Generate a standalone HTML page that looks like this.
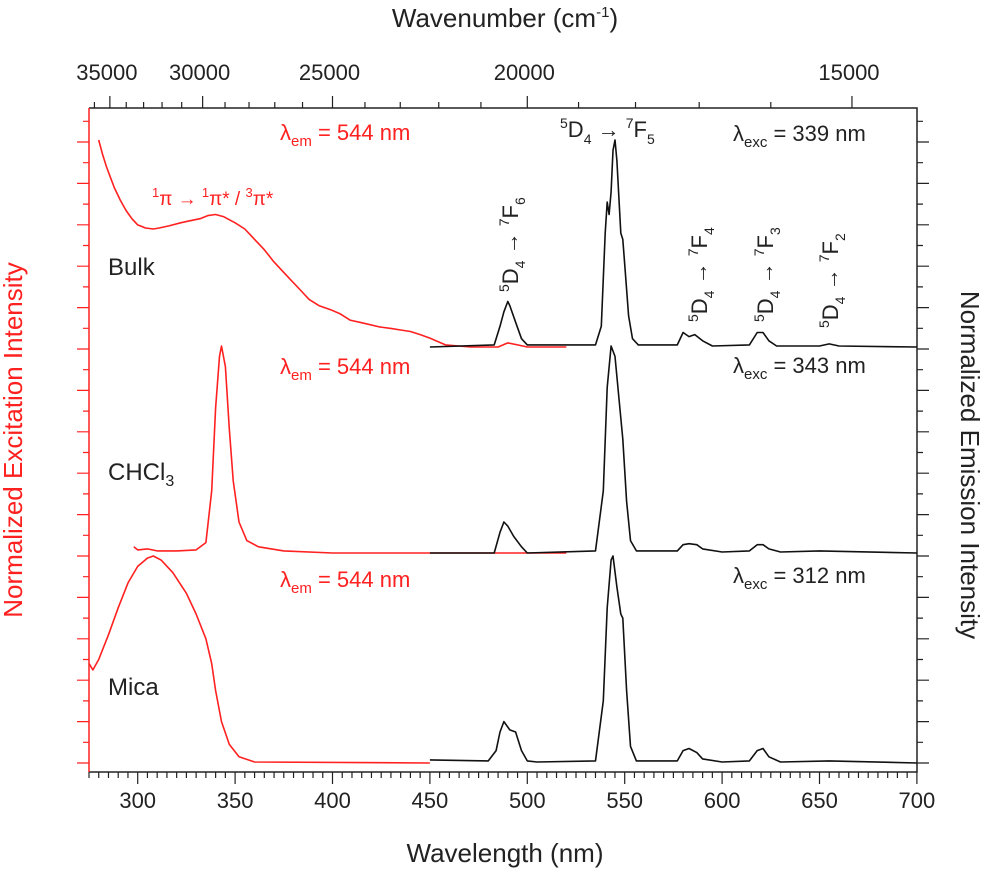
<!DOCTYPE html>
<html><head><meta charset="utf-8"><style>
body{margin:0;background:#fff}
svg{font-family:"Liberation Sans",sans-serif}
</style></head><body>
<svg id="chart" width="983" height="874" viewBox="0 0 983 874" xmlns="http://www.w3.org/2000/svg">
<g id="axes"></g><g id="series"></g>
<g id="labels" font-size="22">
<text x="505" y="27" text-anchor="middle" font-size="26" fill="#222">Wavenumber (cm<tspan font-size="15" dy="-10">-1</tspan><tspan dy="10">)</tspan></text>
<text x="505" y="862" text-anchor="middle" font-size="26" fill="#222">Wavelength (nm)</text>
<text transform="translate(22,440) rotate(-90)" text-anchor="middle" font-size="26" fill="#ff2020">Normalized Excitation Intensity</text>
<text transform="translate(961,465) rotate(90)" text-anchor="middle" font-size="26" fill="#222">Normalized Emission Intensity</text>
<text x="108" y="275" fill="#222" font-size="24">Bulk</text>
<text x="108" y="480" fill="#222" font-size="24">CHCl<tspan font-size="16" dy="6">3</tspan></text>
<text x="108" y="695" fill="#222" font-size="24">Mica</text>
<g fill="#ff2020">
<text x="280" y="140">λ<tspan font-size="15" dy="6">em</tspan><tspan dy="-6"> = 544 nm</tspan></text>
<text x="280" y="374">λ<tspan font-size="15" dy="6">em</tspan><tspan dy="-6"> = 544 nm</tspan></text>
<text x="280" y="587">λ<tspan font-size="15" dy="6">em</tspan><tspan dy="-6"> = 544 nm</tspan></text>
<text x="152" y="205" font-size="19"><tspan font-size="13" dy="-8">1</tspan><tspan dy="8">π → </tspan><tspan font-size="13" dy="-8">1</tspan><tspan dy="8">π* / </tspan><tspan font-size="13" dy="-8">3</tspan><tspan dy="8">π*</tspan></text>
</g>
<g fill="#222">
<text x="733" y="141">λ<tspan font-size="15" dy="6">exc</tspan><tspan dy="-6"> = 339 nm</tspan></text>
<text x="733" y="373">λ<tspan font-size="15" dy="6">exc</tspan><tspan dy="-6"> = 343 nm</tspan></text>
<text x="733" y="583">λ<tspan font-size="15" dy="6">exc</tspan><tspan dy="-6"> = 312 nm</tspan></text>
<text x="560" y="137"><tspan font-size="14" dy="-9">5</tspan><tspan dy="9">D</tspan><tspan font-size="14" dy="7">4</tspan><tspan dy="-7"> → </tspan><tspan font-size="14" dy="-9">7</tspan><tspan dy="9">F</tspan><tspan font-size="14" dy="7">5</tspan></text>
<g font-size="22">
<text transform="translate(518,292) rotate(-90)"><tspan font-size="14" dy="-9">5</tspan><tspan dy="9">D</tspan><tspan font-size="14" dy="7">4</tspan><tspan dy="-7"> → </tspan><tspan font-size="14" dy="-9">7</tspan><tspan dy="9">F</tspan><tspan font-size="14" dy="7">6</tspan></text>
<text transform="translate(707,322) rotate(-90)"><tspan font-size="14" dy="-9">5</tspan><tspan dy="9">D</tspan><tspan font-size="14" dy="7">4</tspan><tspan dy="-7"> → </tspan><tspan font-size="14" dy="-9">7</tspan><tspan dy="9">F</tspan><tspan font-size="14" dy="7">4</tspan></text>
<text transform="translate(773,322) rotate(-90)"><tspan font-size="14" dy="-9">5</tspan><tspan dy="9">D</tspan><tspan font-size="14" dy="7">4</tspan><tspan dy="-7"> → </tspan><tspan font-size="14" dy="-9">7</tspan><tspan dy="9">F</tspan><tspan font-size="14" dy="7">3</tspan></text>
<text transform="translate(838,328) rotate(-90)"><tspan font-size="14" dy="-9">5</tspan><tspan dy="9">D</tspan><tspan font-size="14" dy="7">4</tspan><tspan dy="-7"> → </tspan><tspan font-size="14" dy="-9">7</tspan><tspan dy="9">F</tspan><tspan font-size="14" dy="7">2</tspan></text>
</g>
</g>
</svg>
<script>
const xTicks=[300,350,400,450,500,550,600,650,700];
const wnTicks=[35000,30000,25000,20000,15000];
// excitation spectra (red): wavelengths / normalized intensity
const exBulkWl=[280,282,284,286,288,291,294,297,300,304,308,311,316,322,327,332,336,340,344,350,355,360,365,370,378,383,388,393,399,404,409,416,424,430,435,440,445,450,458,471,485,490,495,500,520];
const exBulkI=[1.0,0.93,0.87,0.82,0.77,0.71,0.66,0.62,0.59,0.575,0.57,0.575,0.585,0.60,0.61,0.62,0.635,0.64,0.63,0.60,0.57,0.52,0.47,0.41,0.33,0.28,0.23,0.2,0.18,0.16,0.13,0.115,0.097,0.09,0.082,0.075,0.06,0.043,0.01,0,0,0.02,0.01,0,0];
const exChWl=[298,300,305,310,320,330,335,338,340,342,343,345,347,349,352,356,362,375,400,520];
const exChI=[0.03,0.015,0.02,0.01,0.01,0.015,0.05,0.3,0.7,0.95,1.0,0.9,0.6,0.35,0.15,0.06,0.03,0.01,0,0];
const exMiWl=[275,277,280,285,290,295,300,305,308,312,318,325,330,335,338,340,343,347,352,360,450];
const exMiI=[0.48,0.45,0.5,0.62,0.75,0.87,0.95,0.99,1.0,0.98,0.92,0.82,0.72,0.6,0.48,0.35,0.2,0.09,0.03,0.005,0];
// emission spectra (black)
const emBulkWl=[450,483,486,488,490,491,494,497,500,535,538,540,541,542,543,544,545,546,548,549,550,552,554,557,577,580,583,586,590,595,614,618,621,624,628,650,655,660,700];
const emBulkI=[0,0.01,0.1,0.17,0.22,0.2,0.12,0.04,0.01,0.01,0.1,0.55,0.7,0.64,0.75,0.95,1.0,0.9,0.55,0.52,0.4,0.15,0.04,0.01,0.01,0.07,0.05,0.06,0.03,0.005,0.01,0.07,0.07,0.03,0.005,0.005,0.015,0.005,0];
const emChWl=[450,483,486,488,490,493,497,500,535,539,541,543,545,547,549,551,553,556,577,580,583,587,590,600,614,618,621,624,630,650,700];
const emChI=[0,0,0.1,0.15,0.13,0.08,0.03,0,0.01,0.3,0.8,1.0,0.95,0.75,0.55,0.25,0.06,0.01,0.01,0.04,0.045,0.04,0.02,0.005,0.01,0.04,0.04,0.02,0.005,0.01,0];
const emMiWl=[450,480,484,486,488,491,494,497,500,505,535,539,541,543,544,546,548,549,551,553,556,577,580,583,587,590,600,614,618,621,624,630,655,700];
const emMiI=[0.015,0.01,0.06,0.15,0.2,0.16,0.15,0.06,0.01,0.005,0.01,0.3,0.75,0.98,1.0,0.85,0.72,0.7,0.35,0.08,0.01,0.01,0.06,0.07,0.05,0.02,0.005,0.01,0.06,0.07,0.03,0.005,0.01,0];
const panels=[347,553,763];
const NS="http://www.w3.org/2000/svg";
const X0=89,XS=1.948,TOP=108,BOT=772,RIGHT=917,UNIT=207;
const xs=w=>X0+(w-275)*XS;
const ys=(v,p)=>panels[p]-v*UNIT;
function mk(t,a,parent){const e=document.createElementNS(NS,t);for(const k in a)e.setAttribute(k,a[k]);parent.appendChild(e);return e;}
const axes=document.getElementById('axes');
const frame=mk('path',{d:`M${X0} ${TOP}H${RIGHT}V${BOT}H${X0}`,fill:'none',stroke:'#222','stroke-width':1.5},axes);


const la=mk('line',{x1:X0,y1:TOP,x2:X0,y2:BOT,stroke:'#ff2020','stroke-width':1.5},axes);


let tk='';
for(let w=275;w<=700;w+=5){const L=(w%50===0)?12:6;tk+=`M${xs(w)} ${BOT}v${L}`;}
const bt=mk('path',{d:tk,stroke:'#222','stroke-width':1.2},axes);


xTicks.forEach(w=>{const t=mk('text',{x:xs(w),y:808,'text-anchor':'middle','font-size':22,fill:'#222'},axes);t.textContent=w;

});
tk='';
for(let n=36000;n>=14000;n-=1000){const w=1e7/n;if(w<275||w>700)continue;const L=(n%5000===0)?12:6;tk+=`M${xs(w)} ${TOP}v${-L}`;}
const tt=mk('path',{d:tk,stroke:'#222','stroke-width':1.2},axes);


wnTicks.forEach(n=>{const t=mk('text',{x:xs(1e7/n)-3,y:80,'text-anchor':'middle','font-size':22,fill:'#222'},axes);t.textContent=n;

});
let lt='',rt='';
for(let k=0;k<=31;k++){const y=763-k*20.7;const L=(k%2===0)?12:6;lt+=`M${X0} ${y}h${-L}`;rt+=`M${RIGHT} ${y}h${L}`;}
const lte=mk('path',{d:lt,stroke:'#ff2020','stroke-width':1.2},axes);


const rte=mk('path',{d:rt,stroke:'#222','stroke-width':1.2},axes);


const ser=document.getElementById('series');
function line(wl,iv,p,col,name){const d=wl.map((w,i)=>(i?'L':'M')+xs(w).toFixed(1)+' '+ys(iv[i],p).toFixed(1)).join('');
const e=mk('path',{d:d,fill:'none',stroke:col,'stroke-width':1.6,'stroke-linejoin':'round'},ser);

}
line(exBulkWl,exBulkI,0,'#ff2020','excitation-bulk');
line(exChWl,exChI,1,'#ff2020','excitation-chcl3');
line(exMiWl,exMiI,2,'#ff2020','excitation-mica');
line(emBulkWl,emBulkI,0,'#111','emission-bulk');
line(emChWl,emChI,1,'#111','emission-chcl3');
line(emMiWl,emMiI,2,'#111','emission-mica');
</script>
</body></html>
